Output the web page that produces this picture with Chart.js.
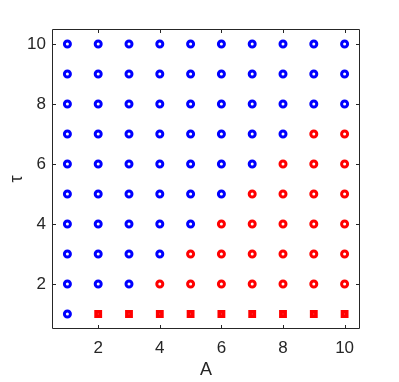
<!DOCTYPE html>
<html>
<head>
<meta charset="utf-8">
<script src="https://cdn.jsdelivr.net/npm/chart.js@4"></script>
<style>
html,body{margin:0;padding:0;background:#fff;}
#wrap{width:399px;height:382px;}
</style>
</head>
<body>
<div id="wrap"><canvas id="c" width="399" height="382"></canvas></div>
<script>
// Categories
const aValues = [1, 2, 3, 4, 5, 6, 7, 8, 9, 10];
const tauValues = [1, 2, 3, 4, 5, 6, 7, 8, 9, 10];
const tickValues = [2, 4, 6, 8, 10];
// Marker class for each (tau row, A column): 0 = blue circle, 1 = red square, 2 = red circle
const rowTau1  = [0, 1, 1, 1, 1, 1, 1, 1, 1, 1];
const rowTau2  = [0, 0, 0, 2, 2, 2, 2, 2, 2, 2];
const rowTau3  = [0, 0, 0, 0, 2, 2, 2, 2, 2, 2];
const rowTau4  = [0, 0, 0, 0, 0, 2, 2, 2, 2, 2];
const rowTau5  = [0, 0, 0, 0, 0, 0, 2, 2, 2, 2];
const rowTau6  = [0, 0, 0, 0, 0, 0, 0, 2, 2, 2];
const rowTau7  = [0, 0, 0, 0, 0, 0, 0, 0, 2, 2];
const rowTau8  = [0, 0, 0, 0, 0, 0, 0, 0, 0, 0];
const rowTau9  = [0, 0, 0, 0, 0, 0, 0, 0, 0, 0];
const rowTau10 = [0, 0, 0, 0, 0, 0, 0, 0, 0, 0];
const rows = [rowTau1, rowTau2, rowTau3, rowTau4, rowTau5, rowTau6, rowTau7, rowTau8, rowTau9, rowTau10];

const blue = [], redSq = [], redCirc = [];
rows.forEach((row, i) => {
  row.forEach((cls, j) => {
    const p = {x: aValues[j], y: tauValues[i]};
    if (cls === 0) blue.push(p);
    else if (cls === 1) redSq.push(p);
    else redCirc.push(p);
  });
});

const axisColor = '#262626';
const fontFam = '"Liberation Sans", Arial, Helvetica, sans-serif';

const boxPlugin = {
  id: 'boxPlugin',
  afterDraw(chart) {
    const {ctx, chartArea: a, scales} = chart;
    ctx.save();
    ctx.strokeStyle = axisColor;
    ctx.lineWidth = 1;
    ctx.beginPath();
    ctx.rect(a.left + 0.5, a.top + 0.5, a.right - a.left - 1, a.bottom - a.top - 1);
    const tl = 4;
    tickValues.forEach(v => {
      const x = Math.round(scales.x.getPixelForValue(v)) + 0.5;
      ctx.moveTo(x, a.bottom); ctx.lineTo(x, a.bottom - tl);
      ctx.moveTo(x, a.top); ctx.lineTo(x, a.top + tl);
      const y = Math.round(scales.y.getPixelForValue(v)) + 0.5;
      ctx.moveTo(a.left, y); ctx.lineTo(a.left + tl, y);
      ctx.moveTo(a.right, y); ctx.lineTo(a.right - tl, y);
    });
    ctx.stroke();
    ctx.restore();
  }
};

const markerCommon = {
  pointRadius: 3,
  pointHoverRadius: 3,
  pointBackgroundColor: '#ffffff',
  showLine: false
};

new Chart(document.getElementById('c'), {
  type: 'scatter',
  data: {
    datasets: [
      Object.assign({label: 'blue', data: blue, pointStyle: 'circle', pointBorderColor: '#0000ff', pointBorderWidth: 3}, markerCommon),
      Object.assign({label: 'redCircle', data: redCirc, pointStyle: 'circle', pointBorderColor: '#ff0000', pointBorderWidth: 3}, markerCommon),
      Object.assign({label: 'redSquare', data: redSq, pointStyle: 'rect', pointBorderColor: '#ff0000', pointBorderWidth: 3.6}, markerCommon)
    ]
  },
  options: {
    responsive: false,
    animation: false,
    devicePixelRatio: 1,
    layout: {padding: {top: 29, right: 39, left: 0, bottom: 0}},
    plugins: {legend: {display: false}, tooltip: {enabled: false}},
    scales: {
      x: {
        type: 'linear', min: 0.5, max: 10.5,
        afterBuildTicks(s) { s.ticks = tickValues.map(v => ({value: v})); },
        afterFit(s) { s.height = 53; },
        grid: {display: false, drawTicks: false},
        border: {display: false},
        ticks: {color: axisColor, font: {family: fontFam, size: 17}, padding: 9, maxRotation: 0},
        title: {display: true, text: 'A', color: axisColor, font: {family: fontFam, size: 18, lineHeight: 1}, padding: {top: 0, bottom: 3}}
      },
      y: {
        type: 'linear', min: 0.5, max: 10.5,
        afterBuildTicks(s) { s.ticks = tickValues.map(v => ({value: v})); },
        afterFit(s) { s.width = 52; },
        grid: {display: false, drawTicks: false},
        border: {display: false},
        ticks: {color: axisColor, font: {family: fontFam, size: 17}, padding: 6},
        title: {display: true, text: 'τ', color: axisColor, font: {family: fontFam, size: 18, lineHeight: 1}, padding: {top: 8, bottom: 0}}
      }
    }
  },
  plugins: [boxPlugin]
});
</script>
</body>
</html>
